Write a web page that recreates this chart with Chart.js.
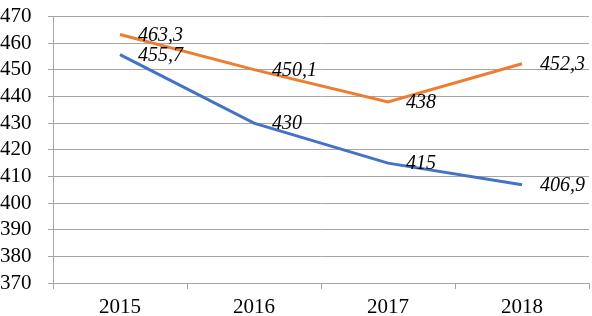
<!DOCTYPE html>
<html>
<head>
<meta charset="utf-8">
<script src="https://cdn.jsdelivr.net/npm/chart.js@4/dist/chart.umd.min.js"></script>
<style>
  html, body { margin: 0; padding: 0; background: #fff; }
  #wrap { width: 592px; height: 316px; }
</style>
</head>
<body>
<div id="wrap"><canvas id="lineChart" width="592" height="316"></canvas></div>
<script>
const years = ['2015', '2016', '2017', '2018'];
const blueValues = [455.7, 430, 415, 406.9];
const orangeValues = [463.3, 450.1, 438, 452.3];
const yTicks = { min: 370, max: 470, step: 10 };

const serif = '"Liberation Serif", "Times New Roman", serif';
const gridGray = '#a6a6a6';

// value labels with comma decimals, drawn to the right of each point
const valueLabels = {
    id: 'valueLabels',
    afterDatasetsDraw(chart) {
        const ctx = chart.ctx;
        ctx.save();
        ctx.font = 'italic 20px ' + serif;
        ctx.fillStyle = '#000';
        ctx.textAlign = 'left';
        ctx.textBaseline = 'middle';
        chart.data.datasets.forEach((ds, i) => {
            const meta = chart.getDatasetMeta(i);
            meta.data.forEach((pt, j) => {
                const txt = String(ds.data[j]).replace('.', ',');
                ctx.fillText(txt, pt.x + 18, pt.y + 1);
            });
        });
        ctx.restore();
    }
};

const ctx = document.getElementById('lineChart').getContext('2d');

new Chart(ctx, {
    type: 'line',
    data: {
        labels: years,
        datasets: [
            {
                label: 'blue',
                data: blueValues,
                borderColor: '#4472C4',
                borderWidth: 3,
                pointRadius: 0,
                tension: 0
            },
            {
                label: 'orange',
                data: orangeValues,
                borderColor: '#ED7D31',
                borderWidth: 3,
                pointRadius: 0,
                tension: 0
            }
        ]
    },
    options: {
        responsive: false,
        animation: false,
        layout: { padding: { top: 8, right: 3, left: 0, bottom: 0 } },
        plugins: {
            legend: { display: false },
            tooltip: { enabled: false }
        },
        scales: {
            x: {
                offset: true,
                grid: {
                    offset: true,
                    drawOnChartArea: false,
                    color: gridGray,
                    tickLength: 6
                },
                border: { color: gridGray },
                ticks: {
                    font: { family: serif, size: 21 },
                    color: '#000',
                    padding: 6,
                    maxRotation: 0,
                    autoSkip: false
                },
                afterFit(scale) { scale.height = 33; }
            },
            y: {
                min: yTicks.min,
                max: yTicks.max,
                grid: {
                    color: gridGray,
                    tickLength: 5
                },
                border: { color: gridGray },
                ticks: {
                    stepSize: yTicks.step,
                    font: { family: serif, size: 21 },
                    color: '#000',
                    crossAlign: 'far',
                    padding: 4,
                    autoSkip: false
                },
                afterFit(scale) { scale.width = 53; }
            }
        }
    },
    plugins: [valueLabels]
});
</script>
</body>
</html>
